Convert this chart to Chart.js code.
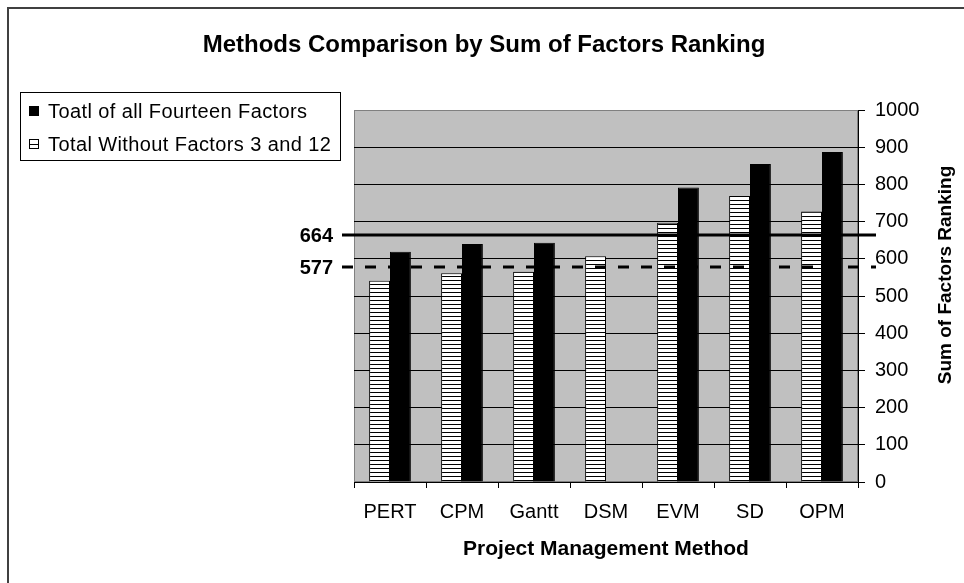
<!DOCTYPE html>
<html>
<head>
<meta charset="utf-8">
<script src="https://cdn.jsdelivr.net/npm/chart.js@4.4.0/dist/chart.umd.min.js"></script>
<style>
  html, body { margin: 0; padding: 0; background: #fff; }
</style>
</head>
<body>
<canvas id="chart" width="964" height="583"></canvas>
<script>
// data
const methods = ['PERT', 'CPM', 'Gantt', 'DSM', 'EVM', 'SD', 'OPM'];
const totalAll = [619, 640, 643, null, 792, 855, 887];
const totalWithout = [541, 561, 565, 607, 697, 769, 727];
const refValues = [664, 577];
const refLabels = ['664', '577'];
const yMin = 0, yMax = 1000, yStep = 100;

const FONT = "'Liberation Sans', Arial, sans-serif";
Chart.defaults.font.family = FONT;
Chart.defaults.color = '#000';

const canvas = document.getElementById('chart');
const ctx = canvas.getContext('2d');

// white with thin horizontal black lines
function stripePattern() {
  const c = document.createElement('canvas');
  c.width = 4; c.height = 4;
  const g = c.getContext('2d');
  g.fillStyle = '#fff';
  g.fillRect(0, 0, 4, 4);
  g.fillStyle = '#000';
  g.fillRect(0, 0, 4, 1);
  return ctx.createPattern(c, 'repeat');
}
const stripes = stripePattern();

const decor = {
  id: 'decor',
  beforeDraw(chart) {
    const { ctx, chartArea: a } = chart;
    ctx.save();
    ctx.fillStyle = '#fff';
    ctx.fillRect(0, 0, chart.width, chart.height);
    // outer frame (left + top only visible)
    ctx.strokeStyle = '#404040';
    ctx.lineWidth = 2;
    ctx.beginPath();
    ctx.moveTo(8, chart.height);
    ctx.lineTo(8, 8);
    ctx.lineTo(chart.width, 8);
    ctx.stroke();
    // plot area
    ctx.fillStyle = '#c0c0c0';
    ctx.fillRect(a.left, a.top, a.right - a.left, a.bottom - a.top);
    ctx.strokeStyle = '#808080';
    ctx.lineWidth = 1;
    ctx.strokeRect(a.left + 0.5, a.top + 0.5, a.right - a.left - 1, a.bottom - a.top - 1);
    ctx.restore();
  },
  afterDatasetsDraw(chart) {
    const { ctx, chartArea: a } = chart;
    const y = chart.scales.y;
    ctx.save();
    refValues.forEach((v, i) => {
      const py = Math.round(y.getPixelForValue(v));
      ctx.strokeStyle = '#000';
      ctx.lineWidth = 3;
      ctx.setLineDash(i === 0 ? [] : [11, 12]);
      ctx.beginPath();
      ctx.moveTo(a.left - 12, py);
      ctx.lineTo(a.right + 18, py);
      ctx.stroke();
      ctx.setLineDash([]);
      ctx.fillStyle = '#000';
      ctx.font = 'bold 20px ' + FONT;
      ctx.textAlign = 'right';
      ctx.textBaseline = 'middle';
      ctx.fillText(refLabels[i], a.left - 21, py + 1);
    });
    ctx.restore();
  },
  afterDraw(chart) {
    const { ctx } = chart;
    ctx.save();
    // title
    ctx.fillStyle = '#000';
    ctx.font = 'bold 24px ' + FONT;
    ctx.textAlign = 'center';
    ctx.textBaseline = 'middle';
    ctx.fillText('Methods Comparison by Sum of Factors Ranking', 484, 45);

    // right axis title, reading bottom to top
    ctx.save();
    ctx.translate(946, 275);
    ctx.rotate(-Math.PI / 2);
    ctx.font = 'bold 19px ' + FONT;
    ctx.fillText('Sum of Factors Ranking', 0, 0);
    ctx.restore();

    // legend
    ctx.strokeStyle = '#000';
    ctx.lineWidth = 1;
    ctx.strokeRect(20.5, 92.5, 320, 68);
    const items = chart.data.datasets.slice().reverse();
    ctx.font = '20px ' + FONT;
    ctx.letterSpacing = '0.4px';
    ctx.textAlign = 'left';
    items.forEach((ds, i) => {
      const cy = 111 + i * 33;
      if (ds.backgroundColor === '#000') {
        ctx.fillStyle = '#000';
        ctx.fillRect(29, cy - 5, 10, 10);
      } else {
        ctx.fillStyle = '#fff';
        ctx.fillRect(29, cy - 5, 10, 10);
        ctx.strokeRect(29.5, cy - 4.5, 9, 9);
        ctx.beginPath();
        ctx.moveTo(29, cy + 0.5);
        ctx.lineTo(39, cy + 0.5);
        ctx.stroke();
      }
      ctx.fillStyle = '#000';
      ctx.fillText(ds.label, 48, cy + 1);
    });
    ctx.restore();
  }
};

new Chart(canvas, {
  type: 'bar',
  data: {
    labels: methods,
    datasets: [
      {
        label: 'Total Without Factors 3 and 12',
        data: totalWithout,
        backgroundColor: stripes,
        borderColor: '#000',
        borderWidth: 1,
        barPercentage: 1,
        categoryPercentage: 0.58
      },
      {
        label: 'Toatl of all Fourteen Factors',
        data: totalAll,
        backgroundColor: '#000',
        borderColor: '#000',
        borderWidth: 1,
        barPercentage: 1,
        categoryPercentage: 0.58
      }
    ]
  },
  options: {
    responsive: false,
    animation: false,
    devicePixelRatio: 1,
    layout: { padding: { left: 354, top: 110, right: 0, bottom: 0 } },
    plugins: {
      legend: { display: false },
      title: { display: false },
      tooltip: { enabled: false }
    },
    scales: {
      x: {
        grid: {
          offset: true,
          drawOnChartArea: false,
          drawTicks: true,
          tickLength: 6,
          tickColor: '#000',
          color: '#000'
        },
        border: { display: true, color: '#000', width: 1 },
        ticks: { font: { size: 20 }, color: '#000', padding: 12 },
        title: {
          display: true,
          text: 'Project Management Method',
          font: { size: 21, weight: 'bold' },
          color: '#000',
          padding: { top: 0, bottom: 21 }
        },
        afterFit(scale) { scale.height = 101; }
      },
      y: {
        position: 'right',
        min: yMin,
        max: yMax,
        grid: {
          color: c => (c.tick && c.tick.value === yMax ? '#808080' : '#000'),
          tickColor: '#000',
          tickLength: 7,
          lineWidth: 1
        },
        border: { display: true, color: '#000', width: 1 },
        ticks: {
          stepSize: yStep,
          font: { size: 20 },
          color: '#000',
          padding: 10,
          callback: v => String(v)
        },
        afterFit(scale) { scale.width = 106; }
      }
    }
  },
  plugins: [decor]
});
</script>
</body>
</html>
